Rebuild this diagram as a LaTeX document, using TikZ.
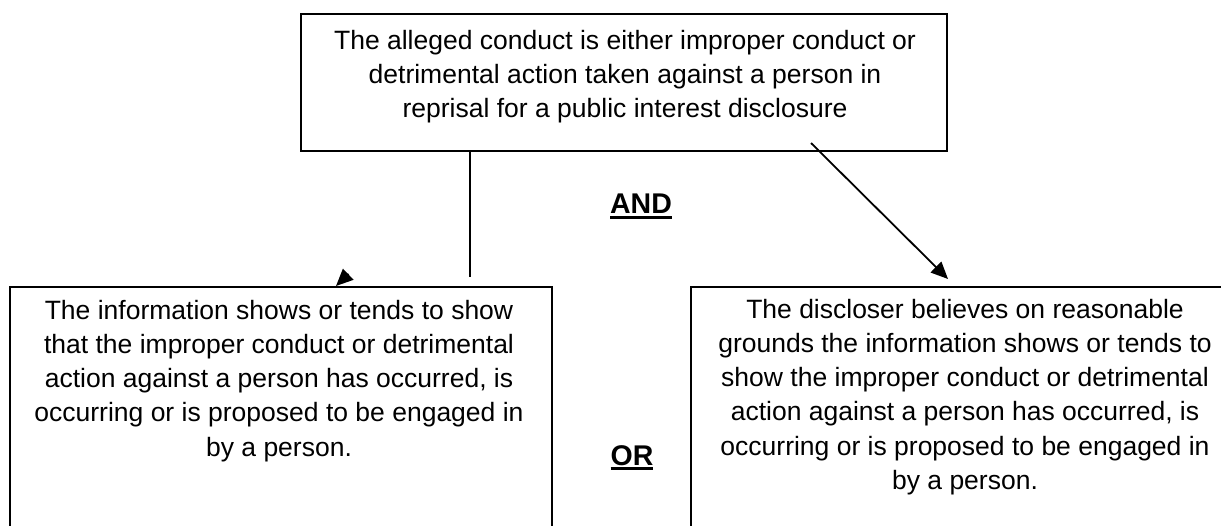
\documentclass[tikz,border=0pt]{standalone}
\usepackage{fontspec}
\setmainfont{Liberation Sans}
\usetikzlibrary{arrows.meta}
\newcommand\myulbold[1]{\setbox0\hbox{\bfseries #1}\rlap{\rule[-5pt]{\wd0}{3.2pt}}\box0}
\begin{document}
\begin{tikzpicture}[x=1pt,y=-1pt,
  box/.style={draw=black,line width=1.8pt,inner sep=0pt,outer sep=0pt,anchor=north west},
  txt/.style={inner sep=0pt,outer sep=0pt,align=center,anchor=north,font=\fontsize{26.5}{34.3}\selectfont},
  lbl/.style={inner sep=0pt,outer sep=0pt,anchor=base,font=\fontsize{28.5}{34}\selectfont},
  conn/.style={line width=1.8pt},
  arr/.style={line width=1.8pt,-{Triangle[length=17pt,width=15pt]}}]
\useasboundingbox (0,0) rectangle (1221,526);
\node[box,minimum width=646pt,minimum height=137pt] (top) at (301,14) {};
\node[box,minimum width=542pt,minimum height=280pt] (left) at (10,287) {};
\node[box,minimum width=548pt,minimum height=280pt] (right) at (691,287) {};
\node[txt] (toptext) at (625,25) {\strut The alleged conduct is either improper conduct or\\detrimental action taken against a person in\\reprisal for a public interest disclosure};
\node[txt] (lefttext) at (279,295) {\strut The information shows or tends to show\\that the improper conduct or detrimental\\action against a person has occurred, is\\occurring or is proposed to be engaged in\\by a person.};
\node[txt] (righttext) at (965,294) {\strut The discloser believes on reasonable\\grounds the information shows or tends to\\show the improper conduct or detrimental\\action against a person has occurred, is\\occurring or is proposed to be engaged in\\by a person.};
\node[lbl] (and) at (641,214) {\myulbold{AND}};
\node[lbl] (or) at (632,465) {\myulbold{OR}};
\coordinate (vend) at (470,277);
\draw[conn] (top.south -| vend) -- (vend);
\coordinate (tailL) at (348.5,274);
\coordinate (tipL) at (336,286);
\draw[arr] (tailL) -- (tipL);
\coordinate (dstart) at (811,143);
\coordinate (dtip) at (948,279);
\draw[arr] (dstart) -- (dtip);
\end{tikzpicture}
\end{document}
